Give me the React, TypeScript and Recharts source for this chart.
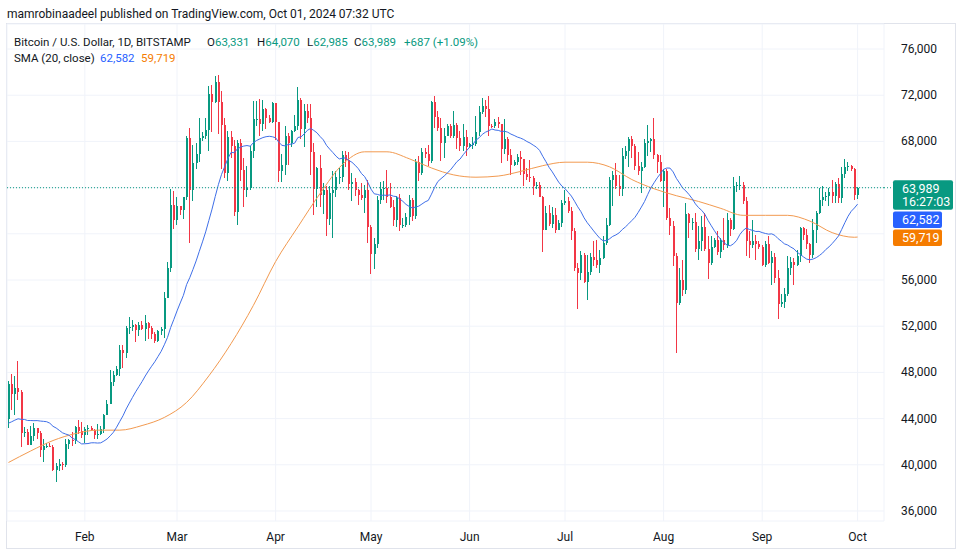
import React from "react";
import {
  ComposedChart,
  XAxis,
  YAxis,
  CartesianGrid,
  Bar,
  Line,
  ReferenceLine,
} from "recharts";

// prices in thousands of USD, one candle per day, Jan 8 2024 -> Oct 1 2024
const firstOpen = 43.93;

const closes = [
  // Jan 8-31
  46.97, 46.12, 46.66, 46.34, 42.78, 42.84, 41.73, 42.51, 43.15, 42.74, 41.28, 41.62, 41.66, 41.58, 39.56, 39.88, 40.08, 39.95, 41.82, 42.12, 42.03, 43.3, 42.94, 42.58,
  // Feb
  43.08, 43.19, 43.0, 42.58, 42.66, 43.09, 44.34, 45.29, 47.13, 47.77, 48.29, 49.95, 49.7, 51.81, 51.93, 52.13, 51.66, 52.14, 51.78, 52.26, 51.85, 51.3, 50.74, 51.57, 51.73, 54.48, 57.08, 62.5, 61.17,
  // Mar
  62.43, 62.03, 63.15, 68.33, 63.8, 66.1, 66.92, 68.3, 68.5, 69.0, 72.1, 71.45, 73.1, 71.4, 69.4, 65.3, 68.4, 67.6, 61.9, 67.9, 65.5, 63.8, 64.0, 67.2, 69.9, 69.9, 69.5, 70.8, 70.0, 69.7, 71.3,
  // Apr
  69.65, 65.45, 65.95, 68.5, 67.85, 68.9, 69.35, 71.6, 69.1, 70.6, 70.0, 67.1, 63.9, 65.7, 63.4, 63.8, 61.3, 63.5, 63.8, 64.9, 64.9, 66.8, 66.4, 64.3, 64.5, 63.8, 63.4, 63.1, 63.8, 60.6,
  // May
  58.25, 59.1, 62.9, 63.9, 64.0, 63.2, 62.3, 61.2, 63.1, 60.8, 60.8, 61.45, 62.9, 61.55, 66.25, 65.25, 67.05, 66.9, 66.3, 71.4, 70.1, 69.15, 67.9, 68.5, 69.3, 68.5, 69.4, 68.3, 67.6, 68.4, 67.5,
  // Jun
  67.75, 67.75, 68.8, 70.55, 71.1, 70.8, 69.35, 69.3, 69.65, 69.5, 67.3, 68.25, 66.8, 66.0, 66.2, 66.65, 66.5, 65.15, 64.95, 64.85, 64.1, 64.25, 63.2, 60.3, 61.8, 60.85, 61.6, 60.35, 60.9, 62.7,
  // Jul
  62.8, 62.0, 60.2, 57.0, 56.6, 58.2, 55.8, 56.7, 58.0, 57.7, 57.3, 57.9, 59.2, 60.8, 64.7, 65.1, 64.1, 63.9, 66.7, 67.2, 68.2, 67.6, 65.9, 65.4, 65.8, 67.9, 68.0, 68.2, 66.8, 66.2, 64.6,
  // Aug
  65.4, 61.4, 60.7, 58.1, 54.0, 56.0, 55.1, 61.7, 60.9, 61.0, 58.7, 59.4, 60.6, 58.7, 57.5, 58.9, 59.5, 58.4, 59.5, 59.0, 61.2, 60.4, 64.1, 64.2, 64.2, 62.8, 59.4, 59.0, 59.4, 59.1, 58.9,
  // Sep + Oct 1
  57.3, 59.1, 57.5, 58.0, 56.2, 53.9, 54.1, 54.8, 57.0, 57.6, 57.3, 58.1, 60.5, 59.9, 59.1, 58.2, 60.3, 61.8, 62.9, 63.2, 63.3, 63.6, 63.3, 64.3, 63.1, 65.2, 65.8, 65.9, 65.6, 63.33, 63.989,
];

const highs = [
  47.22, 47.89, 47.7, 48.97, 46.5, 43.25, 43.08, 43.4, 43.58, 43.2, 42.93, 42.2, 41.88, 41.88, 41.69, 40.13, 40.53, 40.27, 42.2, 42.24, 42.82, 43.32, 43.84, 43.74,
  43.29, 43.48, 43.38, 43.11, 43.49, 43.4, 44.38, 45.6, 48.18, 48.16, 48.56, 50.33, 50.37, 52.04, 52.82, 52.57, 52.21, 52.38, 52.49, 52.95, 52.37, 52.0, 51.53, 51.68, 51.95, 54.92, 57.55, 63.9, 63.68,
  63.2, 62.45, 63.2, 68.5, 69.2, 67.65, 67.9, 70.0, 68.8, 70.0, 72.8, 72.9, 73.65, 73.78, 72.4, 70.0, 68.9, 68.9, 68.1, 68.1, 68.2, 66.6, 65.9, 67.6, 71.5, 71.5, 71.7, 71.6, 70.9, 70.3, 71.4,
  71.3, 69.65, 66.9, 69.3, 68.7, 69.0, 70.3, 72.75, 71.75, 71.2, 71.25, 71.2, 67.9, 65.8, 66.8, 64.4, 64.1, 64.1, 65.4, 65.4, 65.7, 67.2, 67.2, 67.1, 65.3, 64.8, 63.9, 64.4, 64.2, 64.7,
  60.8, 59.6, 63.3, 64.5, 64.6, 65.5, 64.4, 62.9, 63.3, 63.45, 61.4, 61.8, 63.4, 63.1, 66.5, 66.7, 67.4, 67.4, 67.7, 71.5, 71.9, 70.6, 70.0, 69.2, 69.5, 69.5, 70.6, 69.6, 68.9, 69.5, 69.0,
  67.85, 68.4, 70.2, 71.1, 71.75, 71.6, 71.95, 69.55, 69.9, 70.15, 69.55, 69.95, 68.4, 67.3, 66.4, 66.9, 67.2, 66.5, 65.7, 66.4, 65.0, 64.5, 64.5, 63.3, 62.4, 62.5, 62.3, 62.2, 61.2, 62.9,
  63.8, 63.2, 62.3, 60.5, 57.5, 58.5, 58.3, 58.2, 58.3, 59.4, 59.5, 58.6, 59.8, 61.4, 64.9, 65.4, 66.1, 65.1, 67.4, 67.6, 68.4, 68.5, 67.8, 67.1, 66.2, 68.2, 69.4, 68.3, 70.0, 66.9, 66.8,
  65.6, 65.6, 62.2, 61.1, 58.3, 57.0, 57.7, 62.7, 61.8, 61.4, 61.8, 60.7, 61.5, 61.8, 59.8, 59.8, 59.6, 60.2, 59.6, 61.4, 61.8, 61.4, 64.9, 64.5, 65.0, 64.5, 63.2, 60.2, 61.2, 59.9, 59.4,
  59.0, 59.4, 59.8, 58.5, 58.3, 56.9, 54.8, 55.3, 58.1, 58.0, 57.9, 58.6, 60.6, 60.6, 60.4, 59.2, 61.3, 62.0, 64.0, 64.1, 63.6, 64.0, 64.7, 64.5, 64.8, 65.8, 66.5, 66.2, 66.0, 65.7, 64.07,
];

const lows = [
  43.2, 44.75, 44.35, 45.6, 41.5, 42.44, 41.72, 41.72, 42.05, 42.2, 40.68, 40.28, 41.45, 41.5, 39.45, 38.55, 39.48, 39.53, 39.83, 41.4, 41.62, 41.8, 42.7, 42.3,
  41.88, 42.58, 42.89, 42.22, 42.26, 42.57, 42.79, 44.33, 45.25, 46.8, 47.7, 47.71, 48.35, 49.27, 51.33, 51.62, 50.63, 51.17, 51.69, 50.71, 50.85, 50.9, 50.54, 50.62, 51.28, 50.95, 54.45, 56.7, 60.4,
  60.8, 61.6, 61.3, 62.9, 59.2, 62.8, 65.6, 66.2, 68.0, 68.2, 67.2, 68.8, 71.35, 68.6, 65.6, 64.8, 64.6, 66.6, 61.5, 60.8, 64.6, 62.3, 63.2, 63.8, 66.6, 69.3, 68.5, 68.9, 69.1, 69.6, 69.6,
  68.1, 64.5, 64.5, 65.1, 66.0, 67.5, 68.8, 69.0, 68.2, 67.5, 69.6, 65.1, 61.6, 62.3, 62.3, 61.7, 59.8, 60.8, 59.6, 63.2, 64.3, 64.5, 65.8, 63.8, 62.8, 63.3, 62.5, 62.9, 61.8, 59.2,
  56.55, 56.95, 58.8, 62.6, 62.9, 62.7, 62.2, 60.7, 60.6, 60.2, 60.5, 60.6, 60.8, 61.1, 61.3, 64.6, 65.1, 66.6, 65.9, 66.1, 69.2, 68.9, 66.3, 66.6, 68.5, 68.3, 68.3, 67.3, 67.2, 67.2, 66.7,
  67.4, 67.3, 67.6, 68.5, 70.4, 70.1, 68.5, 69.2, 69.15, 69.2, 66.1, 66.9, 66.3, 65.1, 65.9, 66.0, 65.1, 64.1, 64.7, 64.5, 63.4, 63.9, 63.2, 58.4, 60.3, 60.7, 60.5, 60.1, 60.3, 60.6,
  62.5, 61.8, 59.5, 56.8, 53.5, 56.0, 55.7, 54.3, 56.4, 57.2, 57.0, 56.6, 57.8, 59.0, 60.7, 62.4, 63.9, 63.3, 63.3, 66.5, 65.8, 66.6, 65.5, 65.1, 63.5, 65.7, 66.7, 67.1, 66.5, 65.3, 64.5,
  62.3, 61.2, 59.9, 57.2, 49.7, 53.8, 54.6, 54.8, 59.6, 60.3, 58.4, 57.7, 58.5, 58.5, 56.1, 57.3, 58.8, 58.2, 57.9, 58.6, 58.8, 59.8, 60.3, 63.6, 63.8, 62.6, 58.1, 57.9, 58.8, 57.7, 58.7,
  57.2, 57.1, 57.4, 55.6, 55.7, 52.6, 53.7, 53.6, 54.6, 56.4, 55.6, 57.2, 57.6, 59.5, 58.7, 57.5, 57.9, 59.2, 61.7, 62.4, 62.8, 62.4, 62.7, 62.7, 62.7, 62.7, 64.8, 65.4, 65.4, 62.9, 62.985,
];

// closes before the first visible day (Dec 20 - Jan 7), needed for the 20-day average
const priorCloses = [43.67, 43.86, 43.99, 43.73, 43.02, 43.58, 42.52, 43.44, 42.58, 42.07, 42.14, 42.28, 44.18, 44.95, 42.85, 44.18, 44.16, 43.97, 43.93];

// slow average (orange), one value a week
const slowDays = [0, 7, 14, 21, 28, 35, 42, 49, 56, 63, 70, 77, 84, 91, 98, 105, 112, 119, 126, 133, 140, 147, 154, 161, 168, 175, 182, 189, 196, 203, 210, 217, 224, 231, 238, 245, 252, 259, 266, 267];
const slowValues = [40.2, 41.2, 42.1, 42.7, 43.0, 43.0, 43.4, 44.1, 45.4, 47.7, 50.5, 53.8, 57.6, 60.6, 63.5, 66.0, 67.1, 67.1, 66.5, 65.7, 65.1, 64.9, 65.0, 65.4, 65.9, 66.2, 66.2, 65.8, 64.7, 63.9, 63.3, 62.8, 62.2, 61.6, 61.6, 61.6, 61.1, 60.1, 59.7, 59.719];

const monthTicks = [24, 53, 84, 114, 145, 175, 206, 237, 267];
const monthLabels = ["Feb", "Mar", "Apr", "May", "Jun", "Jul", "Aug", "Sep", "Oct"];
const priceTicks = [36, 40, 44, 48, 52, 56, 60, 64, 68, 72, 76];
const hiddenPriceLabels = [60, 64];

const lastClose = 63.989;
const fastLast = 62.582;
const slowLast = 59.719;

const UP = "#089981";
const DOWN = "#F23645";
const BLUE = "#2962FF";
const ORANGE = "#F57C00";
const BLUE_LINE = "#3F6FE8";
const ORANGE_LINE = "#F29A50";
const TEXT = "#131722";
const FONT = "Roboto, 'Liberation Sans', Arial, sans-serif";

const allCloses = [...priorCloses, ...closes];
const chartData = closes.map((close, i) => {
  const win = allCloses.slice(i, i + 20);
  const k = slowDays.indexOf(i);
  return {
    i,
    open: i === 0 ? firstOpen : closes[i - 1],
    close,
    high: highs[i],
    low: lows[i],
    range: [lows[i], highs[i]],
    fast: win.reduce((a, b) => a + b, 0) / win.length,
    slow: k >= 0 ? slowValues[k] : null,
  };
});

const Candle = (props: any) => {
  const { x, y, width, height, payload } = props;
  if (!payload || x == null || y == null) return <g />;
  const { open, close, high, low } = payload;
  const top = Math.min(y, y + height);
  const h = Math.abs(height);
  const py = (v: number) => top + ((high - v) / (high - low)) * h;
  const cx = Math.round(x + width / 2);
  const color = close >= open ? UP : DOWN;
  const bTop = py(Math.max(open, close));
  const bBot = py(Math.min(open, close));
  return (
    <g shapeRendering="crispEdges">
      <rect x={cx - 1} y={top} width={1} height={Math.max(h, 1)} fill={color} />
      <rect x={cx - 1} y={bTop} width={2} height={Math.max(bBot - bTop, 1)} fill={color} />
    </g>
  );
};

const PriceTick = (props: any) => {
  const { y, payload } = props;
  if (hiddenPriceLabels.includes(payload.value)) return <g />;
  return (
    <text x={901} y={y + 4} fill={TEXT} fontSize={12} fontFamily={FONT}>
      {(payload.value * 1000).toLocaleString("en-US")}
    </text>
  );
};

const MonthTick = (props: any) => {
  const { x, payload } = props;
  const k = monthTicks.indexOf(payload.value);
  return (
    <text x={x} y={541} textAnchor="middle" fill={TEXT} fontSize={12} fontFamily={FONT}>
      {monthLabels[k]}
    </text>
  );
};

const badge =
  (text: string, color: string, w: number, shift: number, sub?: string) =>
  (p: any) => {
    const vb = p.viewBox || {};
    const lineY = vb.y ?? 0;
    const top = lineY - 7.5 + shift;
    const h = sub ? 29.5 : 16.5;
    return (
      <g>
        {sub && (
          <line
            x1={(vb.x ?? 0) + (vb.width ?? 0)}
            x2={893}
            y1={lineY}
            y2={lineY}
            stroke={color}
            strokeDasharray="1 2"
          />
        )}
        <rect x={893} y={top} width={w} height={h} rx={2} fill={color} />
        <text x={902} y={top + 12.5} fill="#fff" fontSize={12.5} fontFamily={FONT}>
          {text}
        </text>
        {sub && (
          <text x={902} y={top + 26} fill="#fff" fontSize={12.5} fontFamily={FONT}>
            {sub}
          </text>
        )}
      </g>
    );
  };

const fmt = (v: number) => Math.round(v * 1000).toLocaleString("en-US");

const Seg = ({ left, top, color, children }: any) => (
  <div
    style={{
      position: "absolute",
      left,
      top,
      color,
      fontSize: 11.5,
      lineHeight: "16px",
      whiteSpace: "nowrap",
    }}
  >
    {children}
  </div>
);

export default function App() {
  return (
    <div
      style={{
        position: "absolute",
        left: 0,
        top: 0,
        width: 961,
        height: 556,
        background: "#fff",
        fontFamily: FONT,
        overflow: "hidden",
      }}
    >
      <div
        style={{
          position: "absolute",
          left: 7,
          top: 5,
          fontSize: 12,
          lineHeight: "18px",
          color: TEXT,
          whiteSpace: "nowrap",
        }}
      >
        mamrobinaadeel published on TradingView.com, Oct 01, 2024 07:32 UTC
      </div>
      <div
        style={{
          position: "absolute",
          left: 6,
          top: 23,
          width: 948,
          height: 524,
          border: "1px solid #e0e3eb",
        }}
      />
      <div style={{ position: "absolute", left: 0, top: 0 }}>
        <ComposedChart
          width={961}
          height={556}
          data={chartData}
          margin={{ top: 24, right: 7, bottom: 8, left: 7 }}
        >
          <CartesianGrid stroke="#f0f3fa" />
          <XAxis
            dataKey="i"
            type="number"
            domain={[-0.47, 275.3]}
            allowDataOverflow
            ticks={monthTicks}
            tick={<MonthTick />}
            tickLine={false}
            axisLine={false}
            height={27}
          />
          <YAxis
            orientation="right"
            type="number"
            domain={[35.134, 78.165]}
            allowDataOverflow
            ticks={priceTicks}
            tick={<PriceTick />}
            tickLine={false}
            axisLine={false}
            width={70}
          />
          <Bar
            dataKey="range"
            barSize={2}
            shape={(p: any) => <Candle {...p} />}
            isAnimationActive={false}
          />
          <Line
            dataKey="slow"
            type="monotone"
            connectNulls
            stroke={ORANGE_LINE}
            strokeWidth={1}
            dot={false}
            isAnimationActive={false}
          />
          <Line
            dataKey="fast"
            type="linear"
            stroke={BLUE_LINE}
            strokeWidth={1}
            dot={false}
            isAnimationActive={false}
          />
          <ReferenceLine
            y={lastClose}
            stroke={UP}
            strokeDasharray="1 2"
            label={badge(fmt(lastClose), UP, 60, 0, "16:27:03")}
          />
          <ReferenceLine
            y={fastLast}
            stroke="none"
            label={badge(fmt(fastLast), BLUE, 49, 15)}
          />
          <ReferenceLine
            y={slowLast}
            stroke="none"
            label={badge(fmt(slowLast), ORANGE, 49, 0)}
          />
        </ComposedChart>
      </div>
      <Seg left={14} top={34} color={TEXT}>
        Bitcoin / U.S. Dollar, 1D, BITSTAMP
      </Seg>
      <Seg left={207} top={34} color={TEXT}>
        O<span style={{ color: UP }}>63,331</span>
      </Seg>
      <Seg left={257} top={34} color={TEXT}>
        H<span style={{ color: UP }}>64,070</span>
      </Seg>
      <Seg left={307} top={34} color={TEXT}>
        L<span style={{ color: UP }}>62,985</span>
      </Seg>
      <Seg left={354} top={34} color={TEXT}>
        C<span style={{ color: UP }}>63,989</span>
      </Seg>
      <Seg left={404} top={34} color={UP}>
        +687 (+1.09%)
      </Seg>
      <Seg left={14} top={50} color={TEXT}>
        SMA (20, close)
      </Seg>
      <Seg left={100} top={50} color={BLUE}>
        {fmt(fastLast)}
      </Seg>
      <Seg left={141} top={50} color={ORANGE}>
        {fmt(slowLast)}
      </Seg>
    </div>
  );
}
